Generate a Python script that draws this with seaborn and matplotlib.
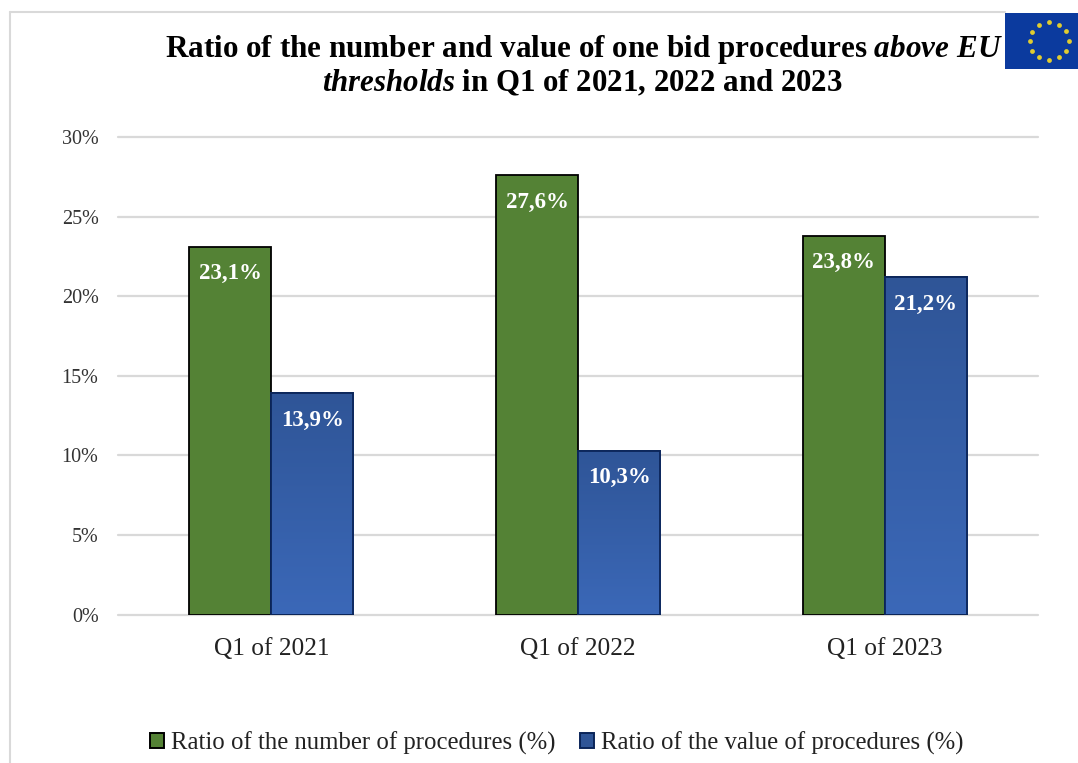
import numpy as np
import pandas as pd
import matplotlib.pyplot as plt
from matplotlib.lines import Line2D
from matplotlib.patches import Rectangle
import seaborn as sns

# values
quarters = ["Q1 of 2021", "Q1 of 2022", "Q1 of 2023"]
number_ratio = [23.1, 27.6, 23.8]
value_ratio = [13.9, 10.3, 21.2]
number_name = "Ratio of the number of procedures (%)"
value_name = "Ratio of the value of procedures (%)"
y_ticks = [0, 5, 10, 15, 20, 25, 30]

W, H = 1078, 763

sns.set_theme(style="white")
plt.rcParams["font.family"] = ["Liberation Serif", "DejaVu Serif"]
plt.rcParams["mathtext.fontset"] = "custom"
plt.rcParams["mathtext.it"] = "Liberation Serif:italic:bold"
plt.rcParams["mathtext.rm"] = "Liberation Serif:bold"

df = pd.DataFrame({
    "quarter": quarters * 2,
    "series": [number_name] * 3 + [value_name] * 3,
    "ratio": number_ratio + value_ratio,
})

fig = plt.figure(figsize=(W / 100, H / 100), dpi=100)
ax = fig.add_axes([118 / W, 1 - 614.5 / H, 920 / W, 477.5 / H])

sns.barplot(data=df, x="quarter", y="ratio", hue="series", ax=ax, width=0.535, gap=0,
            palette=["#548235", "#2F5597"], saturation=1, legend=True, zorder=3)

ax.set_xlim(-0.5, 2.5)
ax.set_ylim(0, 30)
ax.set_yticks(y_ticks)
ax.set_yticklabels([f"{t}%" for t in y_ticks], fontsize=14.5, color="#333333")
ax.tick_params(axis="y", length=0, pad=14)
ax.tick_params(axis="x", length=0, pad=17, labelsize=18.3, labelcolor="#222222")
ax.set_xlabel("")
ax.set_ylabel("")
ax.grid(axis="y", color="#D9D9D9", lw=1.6, zorder=0, clip_on=False)
ax.set_axisbelow(True)
sns.despine(ax=ax, left=True, bottom=True, top=True, right=True)

# green bars flat, blue bars get a vertical gradient
grad = np.linspace(0, 1, 128).reshape(-1, 1)
cmap = plt.matplotlib.colors.LinearSegmentedColormap.from_list("blue", ["#2F5597", "#3B68B8"])
for bars, edge in zip(ax.containers, ["black", "#0B2559"]):
    for bar in bars:
        bar.set_edgecolor(edge)
        bar.set_linewidth(1.3)
        bar.set_zorder(3)
for bar in ax.containers[1]:
    x0, w, h = bar.get_x(), bar.get_width(), bar.get_height()
    im = ax.imshow(grad, cmap=cmap, extent=(x0, x0 + w, 0, h), aspect="auto", zorder=3.2)
    im.set_clip_path(bar)
    ax.add_patch(Rectangle((x0, 0), w, h, fill=False, ec="#0B2559", lw=1.3, zorder=3.4))
ax.set_xlim(-0.5, 2.5)
ax.set_ylim(0, 30)

for bars in ax.containers:
    labels = [f"{v:.1f}%".replace(".", ",") for v in bars.datavalues]
    ax.bar_label(bars, labels=labels, label_type="edge", padding=-27, color="white",
                 fontsize=16.5, fontweight="bold", zorder=5)

# legend
old = ax.get_legend()
handles = old.legend_handles
names = [number_name, value_name]
for h, e in zip(handles, ["black", "#0B2559"]):
    h.set_edgecolor(e)
    h.set_linewidth(1.4)
old.remove()
fig.legend(handles, names, loc="center", bbox_to_anchor=(557 / W, 1 - 743 / H), ncol=2, frameon=False,
           fontsize=17.8, handlelength=0.55, handleheight=0.55, handletextpad=0.3, columnspacing=1.0,
           labelcolor="#222222")

# title
fig.text(583.5 / W, 1 - 50 / H, r"Ratio of the number and value of one bid procedures $\mathit{above\ EU}$",
         ha="center", va="center", fontsize=22.4, fontweight="bold", color="black")
fig.text(582.5 / W, 1 - 83 / H, r"$\mathit{thresholds}$ in Q1 of 2021, 2022 and 2023",
         ha="center", va="center", fontsize=22.2, fontweight="bold", color="black")

# outer frame of the slide
fig.add_artist(Line2D([9.5 / W, 9.5 / W], [0, 1 - 12 / H], color="#D9D9D9", lw=1.5))
fig.add_artist(Line2D([9.5 / W, 1005 / W], [1 - 12 / H, 1 - 12 / H], color="#D9D9D9", lw=1.5))

# EU flag, cut by the right edge of the picture
flag = fig.add_axes([1005 / W, 1 - 69 / H, 73 / W, 56 / H])
flag.set_facecolor("#0B3A9E")
flag.set_xlim(1005, 1078)
flag.set_ylim(69, 13)
flag.set_xticks([])
flag.set_yticks([])
for s in flag.spines.values():
    s.set_visible(False)
angles = np.deg2rad(np.arange(0, 360, 30))
flag.scatter(1049 + 19.5 * np.cos(angles), 41 + 19 * np.sin(angles), marker="o", s=12,
             color="#E0CC30", linewidths=0)

fig.savefig("out.png", dpi=100)
